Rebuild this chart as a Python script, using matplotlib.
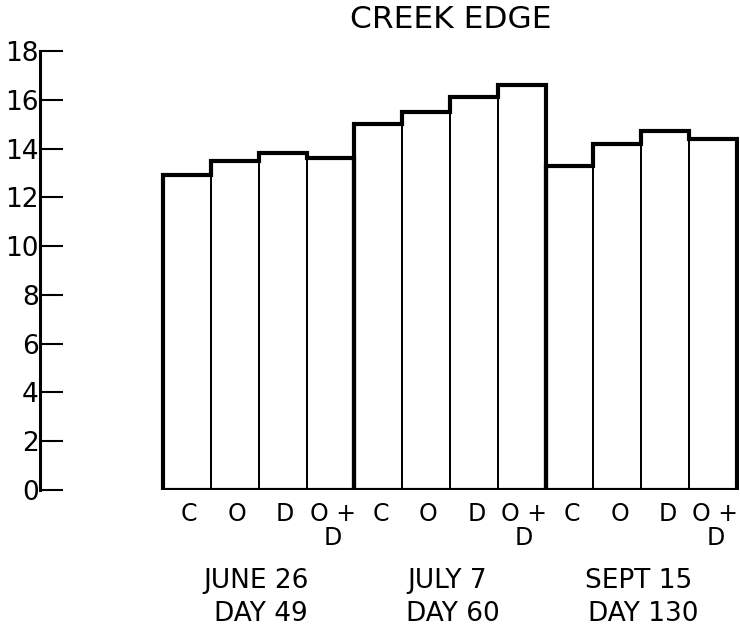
import numpy as np
import matplotlib
matplotlib.use("Agg")
import matplotlib.pyplot as plt

# bar heights, 4 treatments per sampling date
treatments = ['C', 'O', 'D', 'O +\nD']
date_lines = ['JUNE 26', 'JULY 7', 'SEPT 15']
day_lines = ['DAY 49', 'DAY 60', 'DAY 130']
june = [12.9, 13.5, 13.8, 13.6]
july = [15.0, 15.5, 16.1, 16.6]
sept = [13.3, 14.2, 14.7, 14.4]
yticks = [0, 2, 4, 6, 8, 10, 12, 14, 16, 18]

plt.rcParams['font.family'] = 'DejaVu Sans'

fig = plt.figure(figsize=(7.4, 6.28), dpi=100)
ax = fig.add_axes([40/740, 1-490/628, 699/740, 439/628])

groups = [june, july, sept]
n = len(treatments)
for g, vals in enumerate(groups):
    x = np.arange(n) + g*n
    # thin inner dividers
    ax.bar(x, vals, width=1.0, fill=False, edgecolor='black', linewidth=1.3)
    # heavy outline of each date block
    edges = np.arange(n+1) + g*n - 0.5
    ax.stairs(vals, edges, baseline=0, fill=False, edgecolor='black',
              linewidth=3.0)
    for i, t in enumerate(treatments):
        ax.text(x[i] + 0.05, -0.5, t, ha='center', va='top', fontsize=17,
                linespacing=1.0)
    ax.text(x.mean() - 0.05, -3.2, date_lines[g], ha='center', va='top', fontsize=19)
    ax.text(x.mean() + 0.05, -4.55, day_lines[g], ha='center', va='top', fontsize=19)

ax.hlines(0, -0.5, 3*n - 0.5, color='black', linewidth=3.0)

ax.set_xlim(-3.072, 11.542)
ax.set_ylim(0, 18)
ax.set_yticks(yticks)
ax.set_yticklabels([str(v) for v in yticks], fontsize=19)
ax.tick_params(axis='y', direction='in', length=16.5, width=1.5, pad=1)
ax.set_xticks([])
for s in ['top', 'right', 'bottom']:
    ax.spines[s].set_visible(False)
ax.spines['left'].set_linewidth(2.2)

fig.text(451/740, 1-20/628, 'CREEK EDGE', ha='center', va='center', fontsize=22.5)

fig.savefig('out.png', dpi=100, facecolor='white')
